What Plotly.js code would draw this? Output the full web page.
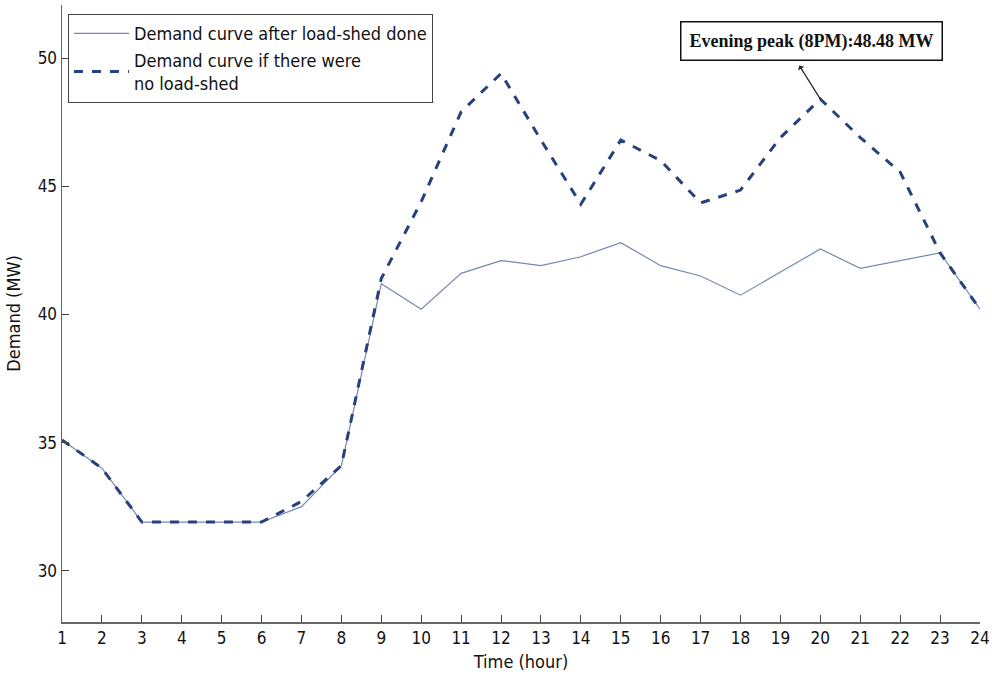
<!DOCTYPE html>
<html>
<head>
<meta charset="utf-8">
<script src="https://cdn.plot.ly/plotly-3.0.1.min.js"></script>
<style>html,body{margin:0;padding:0;background:#fff;}#chart{width:992px;height:683px;}</style>
</head>
<body>
<div id="chart"></div>
<script>
const hours = [1,2,3,4,5,6,7,8,9,10,11,12,13,14,15,16,17,18,19,20,21,22,23,24];
const afterLoadShed = [35.1,34.0,31.9,31.9,31.9,31.9,32.5,34.1,41.2,40.2,41.6,42.1,41.9,42.25,42.8,41.9,41.5,40.75,41.65,42.55,41.8,42.1,42.4,40.2];
const noLoadShed = [35.1,34.0,31.9,31.9,31.9,31.9,32.7,34.1,41.4,44.4,47.9,49.4,46.8,44.3,46.8,46.0,44.35,44.85,46.9,48.4,46.9,45.55,42.4,40.2];
const seriesNames = ["Demand curve after load-shed done", "Demand curve if there were<br>no load-shed"];
const xTicks = hours;
const yTicks = [30,35,40,45,50];
const peakHour = 20, peakValue = 48.4;
const peakLabel = "Evening peak (8PM):48.48 MW";

const fnt = "'DejaVu Sans Condensed', 'Liberation Sans Narrow', 'Liberation Sans', Arial, sans-serif";

const traces = [
  {x: hours, y: afterLoadShed, type: 'scatter', mode: 'lines', name: seriesNames[0],
   line: {color: '#7489b0', width: 1.2}},
  {x: hours, y: noLoadShed, type: 'scatter', mode: 'lines', name: seriesNames[1],
   line: {color: '#26417e', width: 3, dash: 'dash'}}
];

const layout = {
  width: 992, height: 683,
  margin: {l: 62, r: 12, t: 5, b: 61},
  paper_bgcolor: '#fff', plot_bgcolor: '#fff',
  showlegend: true,
  legend: {x: 0.0065, y: 0.985, xanchor: 'left', yanchor: 'top',
    bgcolor: '#fff', bordercolor: '#444', borderwidth: 1,
    font: {family: fnt, size: 18, color: '#111'}, tracegroupgap: 2, itemwidth: 55},
  xaxis: {range: [1, 24], tickvals: xTicks, ticktext: xTicks.map(String),
    ticks: 'inside', ticklen: 7, tickcolor: '#444', showgrid: false, zeroline: false,
    showline: true, linecolor: '#666', linewidth: 1.5,
    tickfont: {family: fnt, size: 17, color: '#111'},
    title: {text: 'Time (hour)', font: {family: fnt, size: 18, color: '#111'}, standoff: 8}},
  yaxis: {range: [28, 52.07], tickvals: yTicks, ticks: 'inside', ticklen: 7, tickcolor: '#444',
    showgrid: false, zeroline: false, showline: true, linecolor: '#666', linewidth: 1.5,
    tickfont: {family: fnt, size: 17, color: '#111'},
    title: {text: 'Demand (MW)', font: {family: fnt, size: 18, color: '#111'}, standoff: 12}},
  annotations: [
    {x: 19.78, y: 50.66, xref: 'x', yref: 'y', text: '<b>' + peakLabel + '</b>', showarrow: false,
     font: {family: "'Liberation Serif', 'DejaVu Serif', serif", size: 18, color: '#111'},
     bgcolor: '#fff', bordercolor: '#111', borderwidth: 1.5, borderpad: 8, xanchor: 'center', yanchor: 'middle'},
    {x: peakHour, y: peakValue, xref: 'x', yref: 'y', text: '', showarrow: true,
     ax: -22, ay: -35, arrowside: 'start', arrowhead: 2, arrowsize: 3, arrowwidth: 1.2, arrowcolor: '#222'}
  ]
};

Plotly.newPlot('chart', traces, layout, {displayModeBar: false, staticPlot: true});
</script>
</body>
</html>
